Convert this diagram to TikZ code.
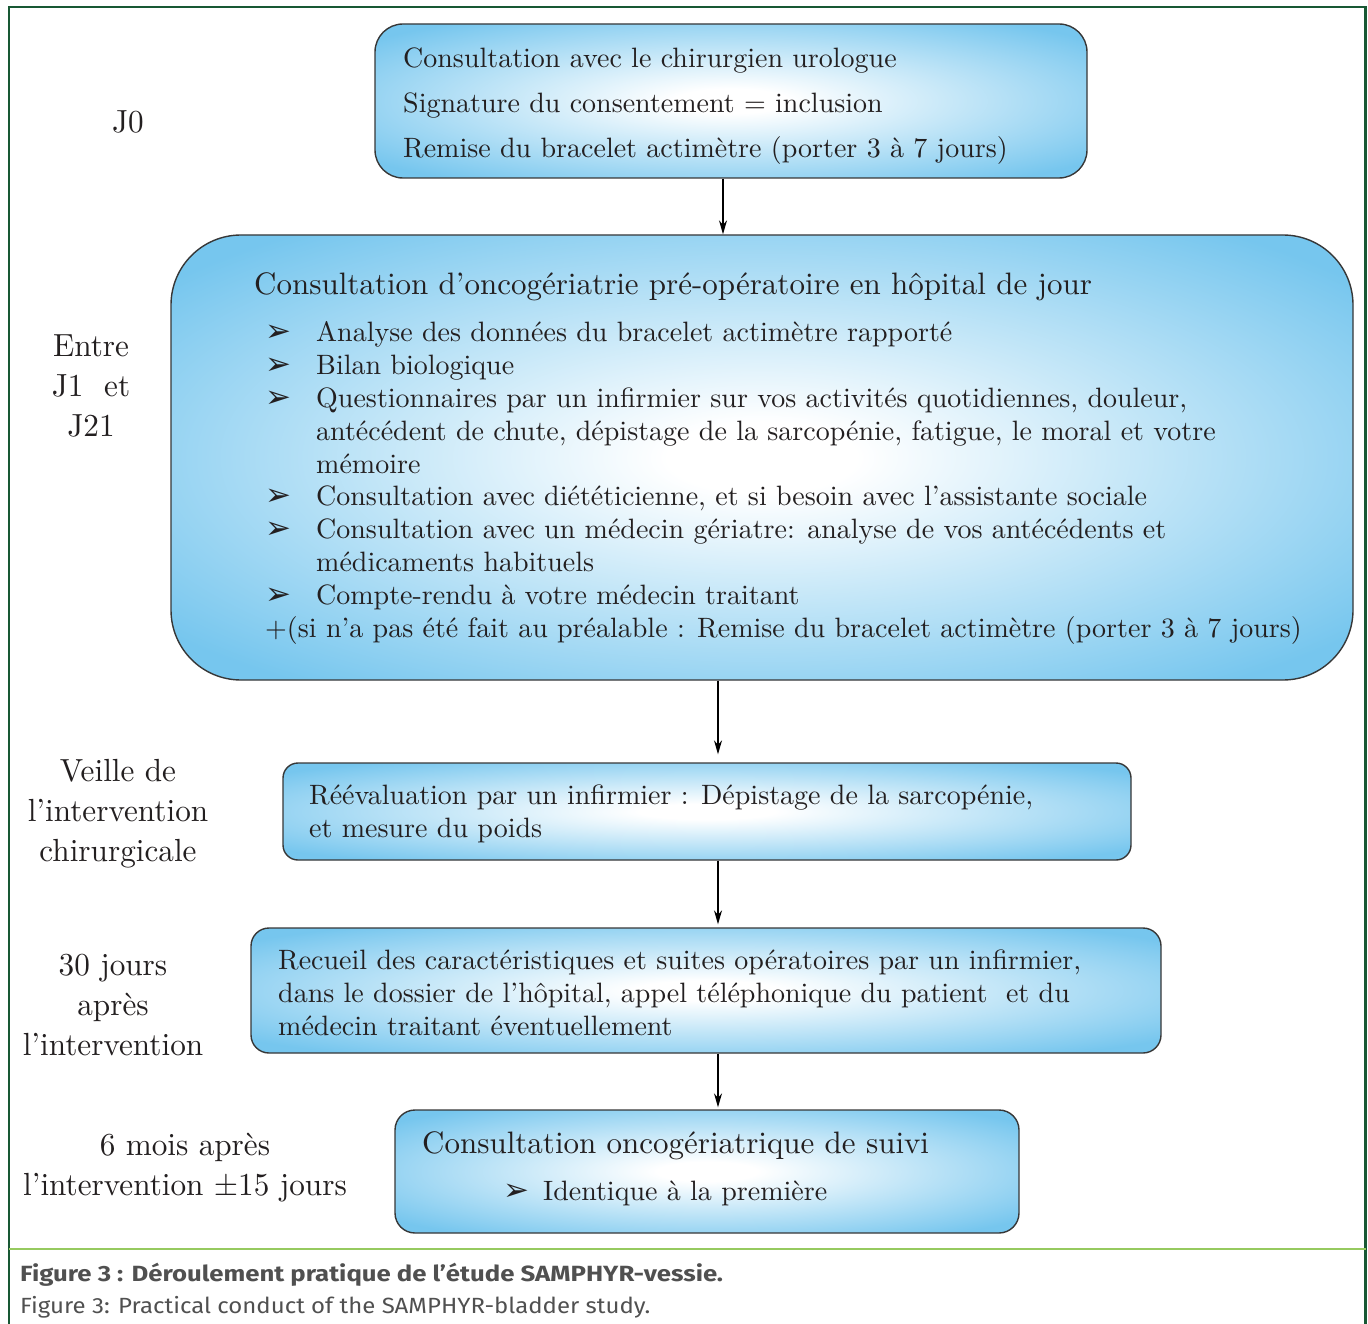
\documentclass[tikz,border=0pt]{standalone}
\usepackage{fontspec}
\usetikzlibrary{arrows.meta,calc}
\newfontfamily\bulletfont{DejaVu Sans}
\newfontfamily\capfont{Fira Sans}[FakeStretch=1.09]
\newfontfamily\capbfont{Fira Sans}[FakeStretch=1.17]
\newfontfamily\boxfont{lmroman10-regular}[Extension=.otf]
\newfontfamily\lblfont{lmroman10-regular}[Extension=.otf, FakeStretch=0.975]
\definecolor{boxblue}{RGB}{118,198,238}
\definecolor{framegreen}{RGB}{24,88,52}
\definecolor{sepgreen}{RGB}{150,202,95}
\definecolor{capgray}{RGB}{80,80,80}
\definecolor{ink}{RGB}{35,31,32}
\definecolor{boxline}{RGB}{55,55,55}
\pgfdeclareradialshading{boxshade}{\pgfpoint{0bp}{0bp}}{color(0bp)=(white); color(4bp)=(white); color(32bp)=(boxblue); color(50bp)=(boxblue)}
\newcommand{\bul}{\makebox[51pt][l]{\bulletfont\fontsize{31}{31}\selectfont ➢}}
\newcommand{\ind}{\hspace*{51pt}}
\begin{document}
\begin{tikzpicture}[x=1pt,y=-1pt,
  box/.style={draw=boxline, line width=1.4pt, shading=boxshade, inner sep=0pt},
  body/.style={anchor=base west, align=left, inner sep=0pt, text=ink, font=\boxfont\fontsize{28}{32.8}\selectfont},
  head/.style={anchor=base west, inner sep=0pt, text=ink, font=\boxfont\fontsize{31}{36}\selectfont},
  lbl/.style={anchor=base, align=center, inner sep=0pt, text=ink, font=\lblfont\fontsize{32}{40}\selectfont},
  arr/.style={draw=black, line width=1.2pt, -{Stealth[length=14pt,width=8pt]}}]
\useasboundingbox (0,0) rectangle (1368,1324);
% frame
\draw[framegreen, line width=2.2pt] (9.3,1324) -- (9.3,7) -- (1365.5,7) -- (1365.5,1324);
\draw[sepgreen, line width=1.6pt] (9.3,1249) -- (1365.5,1249);
% boxes
\node[box, rounded corners=28pt, minimum width=712pt, minimum height=154pt] (b1) at (731,101) {};
\node[box, rounded corners=70pt, minimum width=1182pt, minimum height=445pt] (b2) at (762,457.5) {};
\node[box, rounded corners=15pt, minimum width=848pt, minimum height=97pt] (b3) at (707,811.5) {};
\node[box, rounded corners=18pt, minimum width=910pt, minimum height=125pt] (b4) at (706,990.5) {};
\node[box, rounded corners=20pt, minimum width=624pt, minimum height=123pt] (b5) at (707,1171.5) {};
% box texts (base = baseline of the last line)
\node[body, font=\boxfont\fontsize{28}{45}\selectfont] (t1) at (403,158) {Consultation avec le chirurgien urologue\\Signature du consentement = inclusion\\Remise du bracelet actimètre (porter 3 à 7 jours)};
\node[head] (t2h) at (254,295) {Consultation d’oncogériatrie pré-opératoire en hôpital de jour};
\node[body] (t2) at (265,637) {\bul Analyse des données du bracelet actimètre rapporté\\
\bul Bilan biologique\\
\bul Questionnaires par un infirmier sur vos activités quotidiennes, douleur,\\
\ind antécédent de chute, dépistage de la sarcopénie, fatigue, le moral et votre\\
\ind mémoire\\
\bul Consultation avec diététicienne, et si besoin avec l’assistante sociale\\
\bul Consultation avec un médecin gériatre: analyse de vos antécédents et\\
\ind médicaments habituels\\
\bul Compte-rendu à votre médecin traitant\\
+(si n’a pas été fait au préalable : Remise du bracelet actimètre (porter 3 à 7 jours)};
\node[body] (t3) at (309,837) {Réévaluation par un infirmier : Dépistage de la sarcopénie,\\et mesure du poids};
\node[body] (t4) at (278,1035) {Recueil des caractéristiques et suites opératoires par un infirmier,\\dans le dossier de l’hôpital, appel téléphonique du patient\ \ et du\\médecin traitant éventuellement};
\node[head] (t5h) at (422,1153) {Consultation oncogériatrique de suivi};
\node[body] (t5) at (503,1200) {\makebox[40pt][l]{\bulletfont\fontsize{31}{31}\selectfont ➢}Identique à la première};
% left labels (base = baseline of the last line)
\node[lbl] (l1) at (128,133) {J0};
\node[lbl] (l2) at (91,436) {Entre\\J1\ \ et\\J21};
\node[lbl] (l3) at (118,861) {Veille de\\l’intervention\\chirurgicale};
\node[lbl] (l4) at (113,1055) {30 jours\\après\\l’intervention};
\node[lbl] (l5) at (185,1195) {6 mois après\\l’intervention ±15 jours};
% arrows
\coordinate (ax1) at (723,0);
\coordinate (ax2) at (718,0);
\draw[arr] (b1.south -| ax1) -- (b2.north -| ax1);
\draw[arr, shorten >=8pt] (b2.south -| ax2) -- (b3.north -| ax2);
\draw[arr, shorten >=3pt] (b3.south -| ax2) -- (b4.north -| ax2);
\draw[arr, shorten >=2pt] (b4.south -| ax2) -- (b5.north -| ax2);
% caption
\node[anchor=base west, inner sep=0pt, text=capgray, font=\capbfont\bfseries\fontsize{22}{26}\selectfont] (c1) at (20,1281) {Figure 3 : Déroulement pratique de l’étude SAMPHYR-vessie.};
\node[anchor=base west, inner sep=0pt, text=capgray, font=\capfont\fontsize{22}{26}\selectfont] (c2) at (20,1313) {Figure 3: Practical conduct of the SAMPHYR-bladder study.};
\end{tikzpicture}
\end{document}
